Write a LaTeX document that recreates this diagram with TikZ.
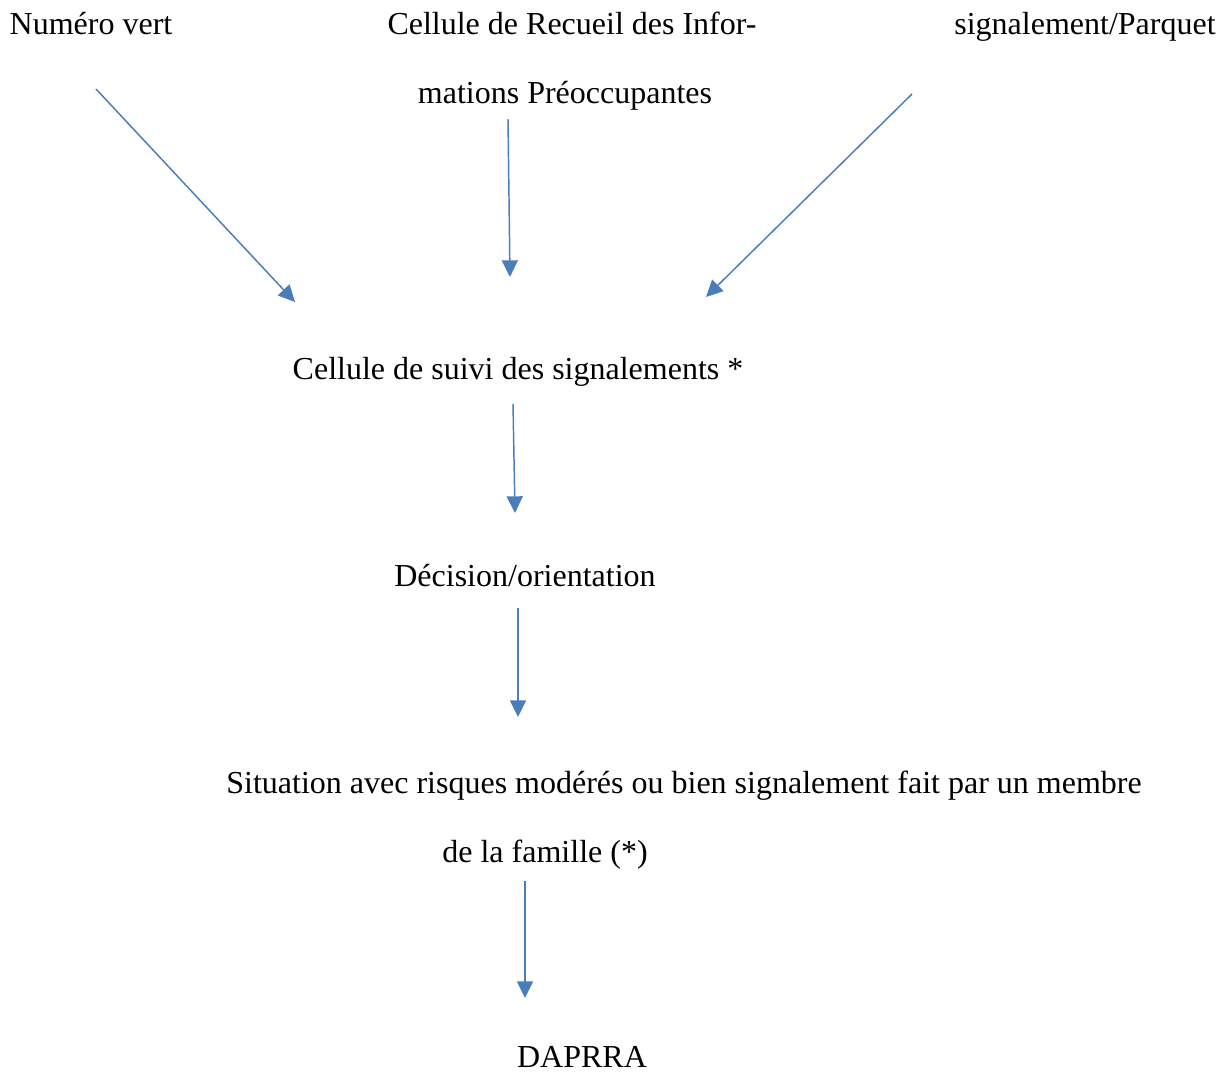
\documentclass[tikz,border=0pt]{standalone}
\usepackage{fontspec}
\setmainfont{Liberation Serif}
\usetikzlibrary{arrows.meta}
\definecolor{arrowblue}{RGB}{74,126,187}
\begin{document}
\begin{tikzpicture}[x=0.75pt,y=-0.75pt,
  lbl/.style={inner sep=0pt,anchor=base,font=\fontsize{24}{29}\selectfont},
  conn/.style={draw=arrowblue,line width=1.1pt,-{Triangle[length=12.5pt,width=12pt]}}]
\useasboundingbox (0,0) rectangle (1229,1072);
\node[lbl] (nv) at (91,34.5) {Numéro vert};
\node[lbl] (cr1) at (572,34.5) {Cellule de Recueil des Infor-};
\node[lbl] (cr2) at (565,103.5) {mations Préoccupantes};
\node[lbl] (sp) at (1085,34.5) {signalement/Parquet};
\node[lbl] (cs) at (518,379.5) {Cellule de suivi des signalements *};
\node[lbl] (dec) at (525,586.5) {Décision/orientation};
\node[lbl] (sit1) at (684,793.5) {Situation avec risques modérés ou bien signalement fait par un membre};
\node[lbl] (sit2) at (545,862.5) {de la famille (*)};
\node[lbl] (dap) at (582,1067) {DAPRRA};
\coordinate (a1s) at (96,89);  \coordinate (a1e) at (295,302);
\coordinate (a2s) at (508,119); \coordinate (a2e) at (510,277);
\coordinate (a3s) at (912,94); \coordinate (a3e) at (706,297);
\coordinate (a4s) at (513,404); \coordinate (a4e) at (515,513);
\coordinate (a5s) at (518,608); \coordinate (a5e) at (518,717);
\coordinate (a6s) at (525,881); \coordinate (a6e) at (525,998);
\draw[conn] (a1s) -- (a1e);
\draw[conn] (a2s) -- (a2e);
\draw[conn] (a3s) -- (a3e);
\draw[conn] (a4s) -- (a4e);
\draw[conn] (a5s) -- (a5e);
\draw[conn] (a6s) -- (a6e);
\end{tikzpicture}
\end{document}
